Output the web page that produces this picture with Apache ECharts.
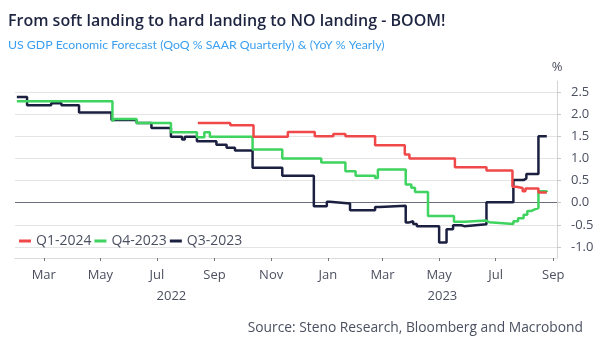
<!DOCTYPE html>
<html>
<head>
<meta charset="utf-8">
<script src="https://cdn.jsdelivr.net/npm/echarts@6/dist/echarts.min.js"></script>
<style>
  html, body { margin: 0; padding: 0; background: #fff; }
  #chart { width: 600px; height: 344px; }
</style>
</head>
<body>
<div id="chart"></div>
<script>
// ---------- data ----------
const seriesNames = ['Q1-2024', 'Q4-2023', 'Q3-2023'];

// Q3-2023 forecast (change points: date, value held until next point)
const q3Dates = ['2022-01-31','2022-02-11','2022-03-09','2022-03-20','2022-04-08','2022-05-13','2022-06-09','2022-06-25',
  '2022-07-16','2022-07-28','2022-07-31','2022-08-13','2022-09-03','2022-09-14','2022-09-23','2022-10-12','2022-11-13',
  '2022-12-17','2022-12-31','2023-01-03','2023-01-25','2023-02-21','2023-02-26','2023-03-26','2023-03-29','2023-04-03',
  '2023-04-07','2023-05-01','2023-05-09','2023-05-16','2023-05-25','2023-05-28','2023-06-21','2023-07-20','2023-07-31',
  '2023-08-03','2023-08-16','2023-08-25'];
const q3Values = [2.39, 2.20, 2.25, 2.20, 2.04, 1.87, 1.80, 1.69,
  1.49, 1.43, 1.49, 1.39, 1.31, 1.24, 1.18, 0.79, 0.61,
  -0.08, 0.02, -0.02, -0.17, -0.10, -0.07, -0.45, -0.42, -0.48,
  -0.53, -0.90, -0.60, -0.51, -0.53, -0.49, 0.01, 0.51, 0.55,
  0.65, 1.50, 1.50];

// Q4-2023 forecast
const q4Dates = ['2022-01-31','2022-05-14','2022-05-16','2022-06-09','2022-07-16','2022-08-13','2022-08-21','2022-08-27',
  '2022-10-12','2022-11-13','2022-12-25','2023-01-20','2023-01-31','2023-02-21','2023-02-24','2023-03-26','2023-04-01',
  '2023-04-05','2023-04-19','2023-05-17','2023-05-29','2023-06-20','2023-06-24','2023-07-20','2023-07-25','2023-07-31',
  '2023-08-04','2023-08-08','2023-08-12','2023-08-16','2023-08-25'];
const q4Values = [2.29, 1.84, 1.89, 1.80, 1.59, 1.48, 1.59, 1.49,
  1.20, 1.00, 0.91, 0.71, 0.61, 0.56, 0.75, 0.41, 0.34,
  0.24, -0.30, -0.43, -0.40, -0.44, -0.48, -0.42, -0.35, -0.27,
  -0.19, -0.15, -0.12, 0.26, 0.24];

// Q1-2024 forecast
const q1Dates = ['2022-08-14','2022-09-18','2022-10-13','2022-11-19','2022-12-18','2023-01-07','2023-01-20','2023-02-21',
  '2023-03-25','2023-03-30','2023-05-18','2023-06-21','2023-07-19','2023-07-23','2023-07-30','2023-08-02','2023-08-16','2023-08-25'];
const q1Values = [1.80, 1.75, 1.49, 1.60, 1.50, 1.55, 1.50, 1.30,
  1.09, 1.00, 0.80, 0.73, 0.36, 0.33, 0.26, 0.32, 0.23, 0.23];

// tick labels
const monthTicks = ['2022-03-01','2022-05-01','2022-07-01','2022-09-01','2022-11-01','2023-01-01','2023-03-01','2023-05-01','2023-07-01','2023-09-01'];
const monthLabels = ['Jan','Feb','Mar','Apr','May','Jun','Jul','Aug','Sep','Oct','Nov','Dec'];
const yearLabels = ['2022', '2023'];
const yTicks = [-1.0, -0.5, 0.0, 0.5, 1.0, 1.5, 2.0, 2.5];
const xRange = ['2022-01-29', '2023-09-05'];
const yRange = [-1.25, 2.75];

// ---------- helpers ----------
function ts(s) { const p = s.split('-'); return new Date(+p[0], +p[1] - 1, +p[2]).getTime(); }
function pairs(dates, vals) { return dates.map((d, i) => [ts(d), vals[i]]); }

const xMin = ts(xRange[0]), xMax = ts(xRange[1]);
const yearMids = yearLabels.map(y => {
  const a = Math.max(xMin, ts(y + '-01-01'));
  const b = Math.min(xMax, ts((+y + 1) + '-01-01'));
  return (a + b) / 2;
});

const FONT = 'Open Sans';
const labelColor = '#4b5060';

const chart = echarts.init(document.getElementById('chart'), null, { renderer: 'canvas' });

chart.setOption({
  animation: false,
  backgroundColor: '#ffffff',
  textStyle: { fontFamily: FONT },
  title: [
    { text: 'From soft landing to hard landing to NO landing - BOOM!', left: 3, top: 8,
      textStyle: { fontFamily: FONT, fontSize: 16, fontWeight: 600, color: '#1e2541' } },
    { text: 'US GDP Economic Forecast (QoQ % SAAR Quarterly) & (YoY % Yearly)', left: 3, top: 34,
      textStyle: { fontFamily: 'Lato', fontSize: 12.3, fontWeight: 'normal', color: '#3a9ff0' } },
    { text: 'Source: Steno Research, Bloomberg and Macrobond', right: 12, top: 316,
      textStyle: { fontFamily: FONT, fontSize: 13.8, fontWeight: 'normal', color: '#4b5060' } }
  ],
  legend: {
    data: seriesNames,
    left: 14, top: 229,
    icon: 'rect', itemWidth: 12, itemHeight: 3, itemGap: 3,
    textStyle: { fontFamily: FONT, fontSize: 14, color: labelColor }
  },
  grid: { left: 15, right: 43, top: 81, bottom: 86 },
  xAxis: [
    {
      type: 'value', min: xMin, max: xMax,
      axisLine: { show: true, onZero: false, lineStyle: { color: '#d4d4d4', type: 'dotted', width: 1 } },
      axisTick: { show: true, length: 3, lineStyle: { color: '#777' }, customValues: monthTicks.map(ts) },
      splitLine: { show: false },
      axisLabel: {
        customValues: monthTicks.map(ts), margin: 11,
        fontFamily: FONT, fontSize: 13, color: labelColor,
        formatter: v => monthLabels[new Date(v).getMonth()]
      }
    },
    {
      type: 'value', min: xMin, max: xMax, position: 'bottom', offset: 21,
      axisLine: { show: false, onZero: false }, axisTick: { show: false }, splitLine: { show: false },
      axisLabel: {
        customValues: yearMids, margin: 11,
        fontFamily: FONT, fontSize: 13, color: labelColor,
        formatter: v => String(new Date(v).getFullYear())
      }
    }
  ],
  yAxis: {
    type: 'value', position: 'right', min: yRange[0], max: yRange[1],
    name: '%', nameLocation: 'end', nameGap: 7,
    nameTextStyle: { fontFamily: FONT, fontSize: 13, color: labelColor, align: 'center' },
    axisLine: { show: true, lineStyle: { color: '#d4d4d4' } },
    axisTick: { show: true, length: 4, lineStyle: { color: '#c8c8c8' }, customValues: yTicks },
    axisLabel: { customValues: yTicks, margin: 14, fontFamily: FONT, fontSize: 13, color: labelColor,
      formatter: v => v.toFixed(1) },
    splitLine: { show: true, lineStyle: { color: '#e4e4e4', width: 1 } }
  },
  series: [
    { name: 'Q3-2023', type: 'line', step: 'end', xAxisIndex: 0, data: pairs(q3Dates, q3Values), showSymbol: false,
      lineStyle: { color: '#1b2040', width: 2.5 }, itemStyle: { color: '#1b2040' }, z: 3,
      markLine: { silent: true, symbol: 'none', label: { show: false },
        lineStyle: { color: '#6a6e7c', width: 1, type: 'solid' }, data: [{ yAxis: 0 }], z: 1 } },
    { name: 'Q4-2023', type: 'line', step: 'end', xAxisIndex: 0, data: pairs(q4Dates, q4Values), showSymbol: false,
      lineStyle: { color: '#3fd35f', width: 2.5 }, itemStyle: { color: '#3fd35f' }, z: 4 },
    { name: 'Q1-2024', type: 'line', step: 'end', xAxisIndex: 0, data: pairs(q1Dates, q1Values), showSymbol: false,
      lineStyle: { color: '#f04848', width: 2.5 }, itemStyle: { color: '#f04848' }, z: 5 }
  ]
});
</script>
</body>
</html>
